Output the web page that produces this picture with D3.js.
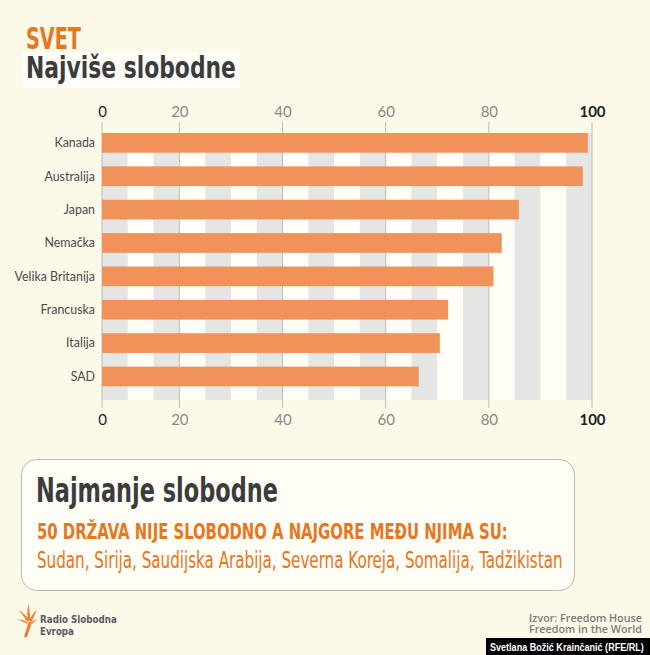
<!DOCTYPE html>
<html><head><meta charset="utf-8">
<script src="https://cdn.jsdelivr.net/npm/d3@7/dist/d3.min.js"></script>
<style>
html,body{margin:0;padding:0;background:#fcf9e9;}
svg{display:block;}
</style></head>
<body>
<script>
const categories = ["Kanada","Australija","Japan","Nemačka","Velika Britanija","Francuska","Italija","SAD"];
const values = [99.2, 98.2, 85.8, 82.5, 80.9, 72.1, 70.5, 66.4];
const tickValues = [5, 20, 40, 60, 80, 100];
const tickLabels = ["0", "20", "40", "60", "80", "100"];
const worstCountries = "Sudan, Sirija, Saudijska Arabija, Severna Koreja, Somalija, Tadžikistan";

const W = 650, H = 655;
const narrow = "'Liberation Sans Narrow','DejaVu Sans Condensed',Arial,sans-serif";
const svg = d3.select("body").append("svg").attr("width", W).attr("height", H);
svg.append("rect").attr("width", W).attr("height", H).attr("fill", "#fcf9e9");

// text placed at (x, y) and squeezed horizontally to a target width
function fitText(str, x0, y0, width, opts) {
  const t = svg.append("text").text(str)
    .attr("font-family", opts.family).attr("font-size", opts.size)
    .attr("font-weight", opts.weight || "normal").attr("fill", opts.fill);
  const w = t.node().getComputedTextLength();
  const k = width / w;
  t.attr("transform", `translate(${x0},${y0}) scale(${k},1)`);
  return t;
}

// Titles
svg.append("rect").attr("x", 23).attr("y", 52).attr("width", 217).attr("height", 36).attr("fill", "#fefdf7");
fitText("SVET", 26, 48.5, 55, {family: narrow, size: 30, weight: "bold", fill: "#e8761e"});
fitText("Najviše slobodne", 26, 78, 210, {family: narrow, size: 31, weight: "bold", fill: "#3c3c3e"});

// Scales
const x = d3.scaleLinear().domain([5, 100]).range([102, 592]);
const y = d3.scaleBand().domain(categories).range([133, 400]).paddingInner(0.41).paddingOuter(0.205).align(0);

// Stripes
const stripeStarts = d3.range(5, 100, 5);
svg.append("g").selectAll("rect").data(stripeStarts).join("rect")
  .attr("x", d => x(d)).attr("width", d => x(d + 5) - x(d))
  .attr("y", 133).attr("height", 400 - 133)
  .attr("fill", (d, i) => i % 2 === 0 ? "#e5e5e4" : "#fefdf6");

// Grid lines
svg.append("g").selectAll("line").data(tickValues).join("line")
  .attr("x1", d => x(d)).attr("x2", d => x(d)).attr("y1", 122).attr("y2", 408)
  .attr("stroke", "#bdbcb6").attr("stroke-width", 1);

// Bars
svg.append("g").selectAll("rect").data(values).join("rect")
  .attr("x", x(5)).attr("y", (d, i) => y(categories[i]))
  .attr("width", d => x(d) - x(5)).attr("height", y.bandwidth())
  .attr("fill", "#f0925a");

// Axes
function styleAxis(g) {
  g.select(".domain").remove();
  g.selectAll(".tick line").remove();
  g.selectAll(".tick text")
    .attr("font-family", "Lato, 'Open Sans', sans-serif")
    .attr("font-size", 15)
    .attr("fill", (d, i) => (i === 0 || i === tickValues.length - 1) ? "#1e1e1e" : "#8a8985")
    .attr("font-weight", (d, i) => i === tickValues.length - 1 ? "bold" : "normal");
}
const fmt = d => tickLabels[tickValues.indexOf(d)];
svg.append("g").attr("transform", "translate(0,121)")
  .call(d3.axisTop(x).tickValues(tickValues).tickFormat(fmt).tickSize(0).tickPadding(4))
  .call(styleAxis);
svg.append("g").attr("transform", "translate(0,409)")
  .call(d3.axisBottom(x).tickValues(tickValues).tickFormat(fmt).tickSize(0).tickPadding(5))
  .call(styleAxis);

// Category labels
svg.append("g").selectAll("text").data(categories).join("text")
  .attr("x", 95).attr("y", d => y(d) + y.bandwidth() / 2)
  .attr("dy", "0.35em").attr("text-anchor", "end")
  .attr("font-family", "Lato, 'Open Sans', sans-serif").attr("font-size", 12.4)
  .attr("fill", "#4a4a4a").text(d => d);

// Box
svg.append("rect").attr("x", 21.5).attr("y", 459.5).attr("width", 553).attr("height", 131)
  .attr("rx", 15).attr("ry", 15).attr("fill", "#fefdf6").attr("stroke", "#b9b8b2").attr("stroke-width", 1);
fitText("Najmanje slobodne", 36, 501.5, 242, {family: narrow, size: 33, weight: "bold", fill: "#3c3c3e"});
fitText("50 DRŽAVA NIJE SLOBODNO A NAJGORE MEĐU NJIMA SU:", 37, 539, 471, {family: narrow, size: 21, weight: "bold", fill: "#e8761e"});
fitText(worstCountries, 37, 568, 526, {family: narrow, size: 22.5, fill: "#e8761e"});

// Logo
const logo = svg.append("g").attr("fill", "#ef7d2a");
logo.append("path").attr("d", "M24,637 L28.5,622 L32,622 L27,637 Z");
logo.append("path").attr("d", "M27,622 C24,616 20,611 17,609 C22,612 26,615 29,620 Z");
logo.append("path").attr("d", "M28,621 C27,614 27,608 29,604 C29,609 30,615 30.5,620 Z");
logo.append("path").attr("d", "M29.5,621 C31,616 34,612 37,610 C35,614 33,618 31.5,622 Z");
logo.append("path").attr("d", "M27.5,622.5 C24,620 20,619 17,619.5 C21,620.5 24,622 27,624 Z");
logo.append("path").attr("d", "M31,622.5 C33,620.5 35.5,619.5 38,619.5 C35.5,620.5 33.5,622 32,624 Z");
fitText("Radio Slobodna", 40, 623, 77, {family: "'DejaVu Sans', sans-serif", size: 10.5, weight: "bold", fill: "#5a5b66"});
fitText("Evropa", 40, 634.5, 34, {family: "'DejaVu Sans', sans-serif", size: 10.5, weight: "bold", fill: "#5a5b66"});

// Source
fitText("Izvor: Freedom House", 529, 622, 113, {family: "'Open Sans', sans-serif", size: 10.5, weight: 600, fill: "#7b7a76"});
fitText("Freedom in the World", 529, 632.5, 113, {family: "'Open Sans', sans-serif", size: 10.5, weight: 600, fill: "#7b7a76"});
svg.append("rect").attr("x", 486).attr("y", 638).attr("width", 164).attr("height", 17).attr("fill", "#000");
fitText("Svetlana Božić Krainčanić (RFE/RL)", 490, 651, 154, {family: "'Liberation Sans', Arial, sans-serif", size: 11, weight: "bold", fill: "#fff"});
</script>
</body></html>
